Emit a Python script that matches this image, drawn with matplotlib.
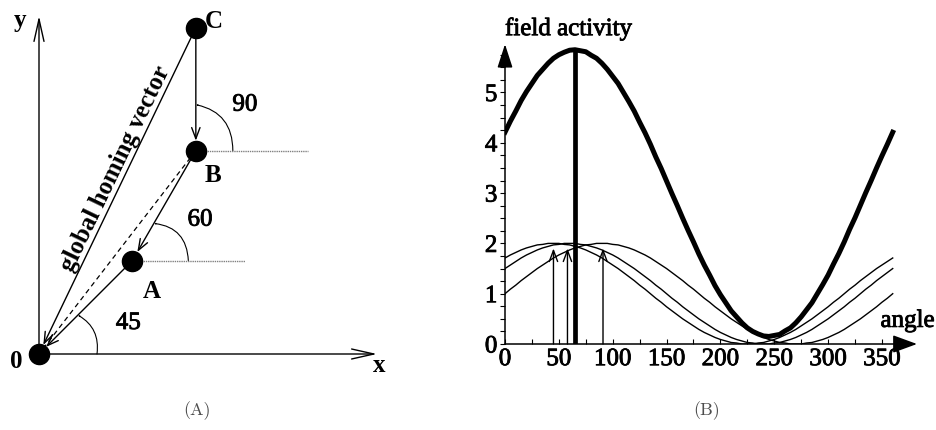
import numpy as np
import matplotlib.pyplot as plt
import matplotlib.patheffects as pe
from matplotlib.patches import FancyArrowPatch

plt.rcParams["font.family"] = ["Liberation Serif", "DejaVu Serif"]

# (A) homing path: heading (deg) and length of each leg, 0 -> A -> B -> C
headings = [45, 60, 90]
seg_lengths = [1.32, 1.27, 1.23]
point_labels = ["A", "B", "C"]

# (B) activity of the three cosine fields, read every 5 deg
angles = list(range(0, 365, 5))
field_45 = [1.71, 1.77, 1.82, 1.87, 1.91, 1.94, 1.97, 1.98, 2.00, 2.00,
            2.00, 1.98, 1.97, 1.94, 1.91, 1.87, 1.82, 1.77, 1.71, 1.64,
            1.57, 1.50, 1.42, 1.34, 1.26, 1.17, 1.09, 1.00, 0.91, 0.83,
            0.74, 0.66, 0.58, 0.50, 0.43, 0.36, 0.29, 0.23, 0.18, 0.13,
            0.09, 0.06, 0.03, 0.02, 0.00, 0.00, 0.00, 0.02, 0.03, 0.06,
            0.09, 0.13, 0.18, 0.23, 0.29, 0.36, 0.43, 0.50, 0.58, 0.66,
            0.74, 0.83, 0.91, 1.00, 1.09, 1.17, 1.26, 1.34, 1.42, 1.50,
            1.57, 1.64, 1.71]
field_60 = [1.50, 1.57, 1.64, 1.71, 1.77, 1.82, 1.87, 1.91, 1.94, 1.97,
            1.98, 2.00, 2.00, 2.00, 1.98, 1.97, 1.94, 1.91, 1.87, 1.82,
            1.77, 1.71, 1.64, 1.57, 1.50, 1.42, 1.34, 1.26, 1.17, 1.09,
            1.00, 0.91, 0.83, 0.74, 0.66, 0.58, 0.50, 0.43, 0.36, 0.29,
            0.23, 0.18, 0.13, 0.09, 0.06, 0.03, 0.02, 0.00, 0.00, 0.00,
            0.02, 0.03, 0.06, 0.09, 0.13, 0.18, 0.23, 0.29, 0.36, 0.43,
            0.50, 0.58, 0.66, 0.74, 0.83, 0.91, 1.00, 1.09, 1.17, 1.26,
            1.34, 1.42, 1.50]
field_90 = [1.00, 1.09, 1.17, 1.26, 1.34, 1.42, 1.50, 1.57, 1.64, 1.71,
            1.77, 1.82, 1.87, 1.91, 1.94, 1.97, 1.98, 2.00, 2.00, 2.00,
            1.98, 1.97, 1.94, 1.91, 1.87, 1.82, 1.77, 1.71, 1.64, 1.57,
            1.50, 1.42, 1.34, 1.26, 1.17, 1.09, 1.00, 0.91, 0.83, 0.74,
            0.66, 0.58, 0.50, 0.43, 0.36, 0.29, 0.23, 0.18, 0.13, 0.09,
            0.06, 0.03, 0.02, 0.00, 0.00, 0.00, 0.02, 0.03, 0.06, 0.09,
            0.13, 0.18, 0.23, 0.29, 0.36, 0.43, 0.50, 0.58, 0.66, 0.74,
            0.83, 0.91, 1.00]
arrow_angles = [45, 58, 91]
arrow_tip = 1.9
peak_angle = 65

FS = 18
HEAVY = [pe.withStroke(linewidth=0.6, foreground="k")]


def arrow(ax, start, end, lw=1.0, hl=0.8, hw=0.3, shrink=0.0, style="->"):
    ax.annotate("", xy=end, xytext=start,
                arrowprops=dict(arrowstyle=f"{style},head_length={hl},head_width={hw}",
                                lw=lw, color="k", shrinkA=0, shrinkB=shrink))


def label(ax, x, y, s, bold=False, **kw):
    ax.text(x, y, s, fontsize=FS, fontweight="bold" if bold else "normal",
            path_effects=None if bold else HEAVY, **kw)


fig = plt.figure(figsize=(9.36, 4.31), dpi=100)

# ---------------- (A) ----------------
ax = fig.add_axes([0, 0, 460 / 936, 1])
ax.set_xlim(-0.39, 4.21)
ax.set_ylim(-0.76, 3.55)
ax.axis("off")

pts = [(0.0, 0.0)]
for h, L in zip(headings, seg_lengths):
    x0, y0 = pts[-1]
    pts.append((x0 + L * np.cos(np.radians(h)), y0 + L * np.sin(np.radians(h))))
O, A, B, C = [np.array(p) for p in pts]

# coordinate axes
arrow(ax, O, (3.38, 0), lw=1.0, hl=1.6, hw=0.36)
arrow(ax, O, (0, 3.38), lw=1.0, hl=1.6, hw=0.36)

# homing legs and global vector
dot_r = 7.2
arrow(ax, C, B, shrink=dot_r)
arrow(ax, B, A, shrink=dot_r)
arrow(ax, A, O, shrink=dot_r)
arrow(ax, C, O, shrink=dot_r)
ax.plot([B[0], O[0]], [B[1], O[1]], color="k", lw=0.9, ls=(0, (4, 3)))

# dotted reference lines
ax.plot([A[0], 2.06], [A[1], A[1]], color="0.5", lw=1.0, ls=(0, (1, 0.6)))
ax.plot([B[0], 2.69], [B[1], B[1]], color="0.5", lw=1.0, ls=(0, (1, 0.6)))

# angle arcs
for P, h, r0, r1, rad in [(O, 45, 0.58, 0.55, 0.33), (A, 60, 0.56, 0.43, 0.42),
                          (B, 90, 0.37, 0.46, 0.40)]:
    start = P + np.array([r0, 0.0])
    end = P + r1 * np.array([np.cos(np.radians(h)), np.sin(np.radians(h))])
    ax.add_patch(FancyArrowPatch(start, end, connectionstyle=f"arc3,rad={rad}",
                                 arrowstyle="->,head_length=0.5,head_width=0.2",
                                 lw=0.8, color="k", shrinkA=0, shrinkB=0))

ax.plot([O[0], A[0], B[0], C[0]], [O[1], A[1], B[1], C[1]], "o", ms=14.5,
        color="k", zorder=5)

label(ax, O[0] + 0.893, O[1] + 0.25, str(headings[0]), ha="center", va="baseline")
label(ax, A[0] + 0.677, A[1] + 0.35, str(headings[1]), ha="center", va="baseline")
label(ax, B[0] + 0.49, B[1] + 0.40, str(headings[2]), ha="center", va="baseline")
for P, lab, off in zip([A, B, C], point_labels, [(0.194, -0.366), (0.175, -0.30), (0.18, 0.004)]):
    label(ax, P[0] + off[0], P[1] + off[1], lab, bold=True, ha="center", va="baseline")
label(ax, -0.223, -0.133, "0", bold=True, ha="center", va="baseline")
label(ax, 3.40, -0.167, "x", bold=True, ha="center", va="baseline")
label(ax, -0.19, 3.283, "y", bold=True, ha="center", va="baseline")

rot = np.degrees(np.arctan2(C[1], C[0]))
label(ax, 0.765, 1.865, "global homing vector", bold=True,
      rotation=rot, ha="center", va="center")

# ---------------- (B) ----------------
bx = fig.add_axes([505 / 936, 86 / 431, 430.8 / 936, 316.9 / 431])
bx.set_xlim(0, 400)
bx.set_ylim(0, 6.3)
bx.patch.set_alpha(0)
for s in bx.spines.values():
    s.set_visible(False)

arrow(bx, (0, 0), (382.5, 0), lw=1.1, hl=1.5, hw=0.55, style="-|>")
arrow(bx, (0, 0), (0, 5.96), lw=1.1, hl=1.45, hw=0.47, style="-|>")

total = np.array(field_45) + np.array(field_60) + np.array(field_90)
for f in (field_45, field_60, field_90):
    bx.plot(angles, f, color="k", lw=1.0)
bx.plot(angles, total, color="k", lw=3.6, solid_joinstyle="round")
peak_val = np.interp(peak_angle, angles, total)
bx.plot([peak_angle, peak_angle], [0, peak_val], color="k", lw=3.4, solid_capstyle="butt")
for a in arrow_angles:
    arrow(bx, (a, 0), (a, arrow_tip), lw=1.0, hl=0.8, hw=0.3)

bx.set_xticks(range(0, 351, 50))
bx.set_xticks(range(25, 351, 50), minor=True)
bx.set_yticks(range(0, 6))
bx.set_yticks(np.arange(0, 5.9, 0.25), minor=True)
bx.tick_params(axis="y", which="both", direction="out", length=3.5, width=0.8,
               labelsize=FS, pad=2)
bx.tick_params(axis="x", which="both", direction="in", length=3.5, width=0.8,
               labelsize=FS, pad=3)
for t in bx.get_xticklabels() + bx.get_yticklabels():
    t.set_path_effects(HEAVY)

label(bx, 0, 6.14, "field activity", ha="left", va="baseline")
label(bx, 399, 0.34, "angle", ha="right", va="baseline")

fig.text(197 / 936, 1 - 411 / 431, "(A)", family="cmr10", fontsize=13,
         color="0.3", ha="center", va="center")
fig.text(707 / 936, 1 - 411 / 431, "(B)", family="cmr10", fontsize=13,
         color="0.3", ha="center", va="center")

fig.savefig("out.png", dpi=100)
